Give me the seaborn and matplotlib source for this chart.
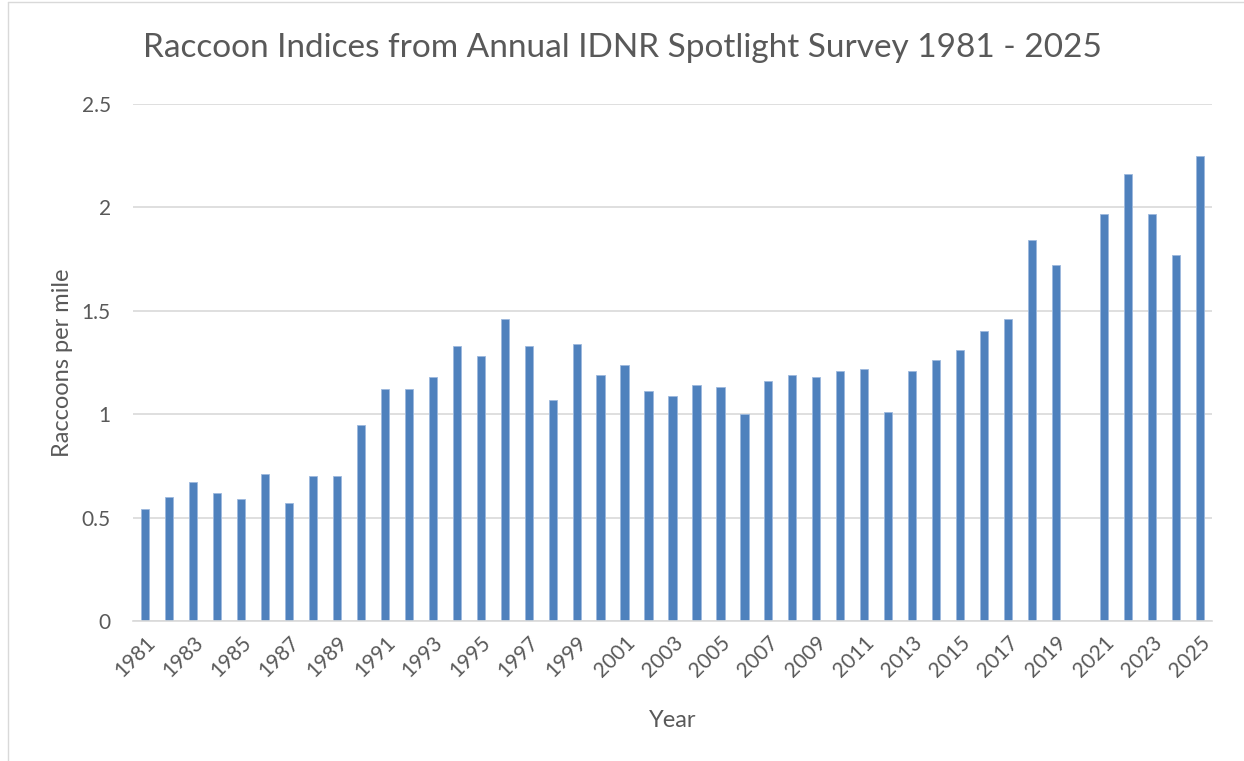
import numpy as np
import pandas as pd
import matplotlib
matplotlib.use('Agg')
import matplotlib.pyplot as plt
import seaborn as sns

# Raccoons per mile, IDNR spotlight survey (no survey in 2020)
years = list(range(1981, 2026))
raccoons = [0.54, 0.60, 0.67, 0.62, 0.59, 0.71, 0.57, 0.70, 0.70, 0.95,
            1.12, 1.12, 1.18, 1.33, 1.28, 1.46, 1.33, 1.07, 1.34, 1.19,
            1.24, 1.11, 1.09, 1.14, 1.13, 1.00, 1.16, 1.19, 1.18, 1.21,
            1.22, 1.01, 1.21, 1.26, 1.31, 1.40, 1.46, 1.84, 1.72, np.nan,
            1.97, 2.16, 1.97, 1.77, 2.25]
y_ticks = [0, 0.5, 1, 1.5, 2, 2.5]
y_tick_labels = ['0', '0.5', '1', '1.5', '2', '2.5']

df = pd.DataFrame({'Year': [str(y) for y in years], 'Raccoons': raccoons})

sns.set_style('white')
plt.rcParams['font.family'] = ['Lato', 'DejaVu Sans']
text_col = '#595959'

fig = plt.figure(figsize=(12.44, 7.61), dpi=100)
ax = fig.add_axes([133 / 1244, 1 - 621 / 761, (1212 - 133) / 1244, (621 - 104) / 761])

sns.barplot(data=df, x='Year', y='Raccoons', color='#4F81BD', saturation=1,
            width=0.34, edgecolor='#9DB9DD', linewidth=0.6, ax=ax)

ax.set_xlim(-0.5, len(years) - 0.5)
ax.set_ylim(0, 2.5)
ax.set_yticks(y_ticks)
ax.set_yticklabels(y_tick_labels)
ax.set_xticks(range(0, len(years), 2))
ax.set_xticklabels([str(y) for y in years[::2]], rotation=45, ha='right',
                   rotation_mode='anchor')
ax.tick_params(axis='both', length=0, labelsize=15, colors=text_col)
ax.tick_params(axis='y', pad=16)
ax.tick_params(axis='x', pad=8)

ax.yaxis.grid(True, color='#D9D9D9', linewidth=1.2)
ax.set_axisbelow(True)
for s in ['top', 'right', 'left']:
    ax.spines[s].set_visible(False)
ax.spines['bottom'].set_color('#D9D9D9')
ax.spines['bottom'].set_linewidth(1.2)

ax.set_xlabel('Year', fontsize=17, color=text_col, labelpad=21)
ax.set_ylabel('Raccoons per mile', fontsize=17, color=text_col, labelpad=6)
fig.text(0.5, 1 - 48 / 761,
         'Raccoon Indices from Annual IDNR Spotlight Survey 1981 - 2025',
         fontsize=24, color=text_col, ha='center', va='center')

# chart area border (left and top edges visible in reference)
fig.add_artist(plt.Line2D([8 / 1244, 8 / 1244], [0, 0.997], color='#D9D9D9', lw=1))
fig.add_artist(plt.Line2D([8 / 1244, 1], [0.997, 0.997], color='#D9D9D9', lw=1))

fig.savefig('out.png', dpi=100)
